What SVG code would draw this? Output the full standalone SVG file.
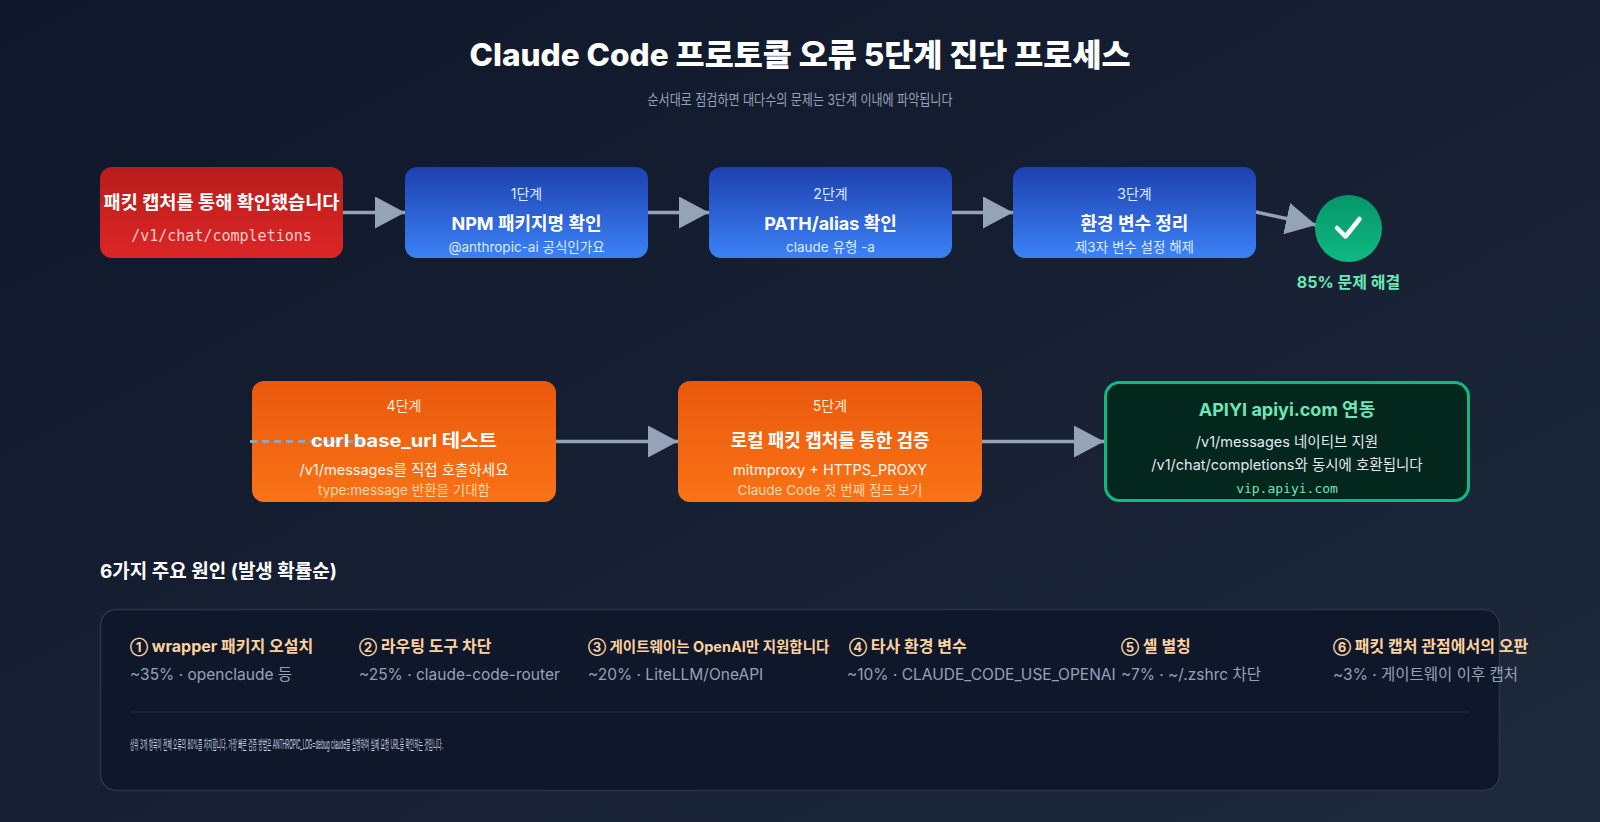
<svg xmlns="http://www.w3.org/2000/svg" width="1600" height="822" viewBox="0 0 1600 822">
  <defs>
    <linearGradient id="bg" x1="0" y1="0" x2="1" y2="1">
      <stop offset="0" stop-color="#0f172a"/>
      <stop offset="1" stop-color="#1e293b"/>
    </linearGradient>
    <linearGradient id="gRed" x1="0" y1="0" x2="0" y2="1">
      <stop offset="0" stop-color="#b91c1c"/>
      <stop offset="1" stop-color="#dc2626"/>
    </linearGradient>
    <linearGradient id="gBlue" x1="0" y1="0" x2="0" y2="1">
      <stop offset="0" stop-color="#1e40af"/>
      <stop offset="1" stop-color="#3b82f6"/>
    </linearGradient>
    <linearGradient id="gOrange" x1="0" y1="0" x2="0" y2="1">
      <stop offset="0" stop-color="#ea580c"/>
      <stop offset="1" stop-color="#f97316"/>
    </linearGradient>
    <linearGradient id="gCheck" x1="0" y1="0" x2="0" y2="1">
      <stop offset="0" stop-color="#059669"/>
      <stop offset="1" stop-color="#10b981"/>
    </linearGradient>
    <marker id="arrow" markerUnits="userSpaceOnUse" markerWidth="30" markerHeight="32" viewBox="0 0 30 32" refX="30" refY="16" orient="auto">
      <path d="M0,0 L30,16 L0,32 z" fill="#94a3b8"/>
    </marker>
    <style>
      .sans { font-family: Inter, "Noto Sans CJK KR", sans-serif; }
      .mono { font-family: "DejaVu Sans Mono", "Liberation Mono", "Noto Sans CJK KR", monospace; }
      .title { font-size: 31px; font-weight: 800; fill: #ffffff; }
      .subtitle { font-size: 15px; fill: #94a3b8; }
      .step { font-size: 14px; fill: #dbeafe; }
      .head { font-size: 18px; font-weight: 700; fill: #ffffff; }
      .sub { font-size: 13.5px; fill: #dbeafe; }
      .ostep { font-size: 14px; fill: #ffedd5; }
      .osub { font-size: 14.5px; fill: #fff7ed; }
      .osub2 { font-size: 13.5px; fill: #fed7aa; }
      .conn { stroke: #94a3b8; stroke-width: 3.5; fill: none; }
      .dash { stroke: #94a3b8; stroke-width: 3; stroke-dasharray: 7 5; fill: none; }
      .ctitle { font-size: 16px; font-weight: 700; fill: #fcd29f; }
      .ctitle.narrow { font-size: 14.5px; }
      .num { font-size: 13px; }
      .cdesc { font-size: 15.5px; fill: #94a3b8; }
    </style>
  </defs>

  <rect x="0" y="0" width="1600" height="822" fill="url(#bg)"/>

  <g id="header">
    <text class="sans title" x="800" y="66" text-anchor="middle" textLength="661" lengthAdjust="spacingAndGlyphs">Claude Code 프로토콜 오류 5단계 진단 프로세스</text>
    <text class="sans subtitle" x="800" y="105" text-anchor="middle" textLength="305" lengthAdjust="spacingAndGlyphs">순서대로 점검하면 대다수의 문제는 3단계 이내에 파악됩니다</text>
  </g>

  <g id="connectors">
    <line class="conn" x1="343" y1="212.5" x2="405" y2="212.5" marker-end="url(#arrow)"/>
    <line class="conn" x1="648" y1="212.5" x2="709" y2="212.5" marker-end="url(#arrow)"/>
    <line class="conn" x1="952" y1="212.5" x2="1013" y2="212.5" marker-end="url(#arrow)"/>
    <line class="conn" x1="1256" y1="212" x2="1316" y2="225" marker-end="url(#arrow)"/>
    <line class="conn" x1="556" y1="441.5" x2="678" y2="441.5" marker-end="url(#arrow)"/>
    <line class="conn" x1="982" y1="441.5" x2="1104" y2="441.5" marker-end="url(#arrow)"/>
  </g>

  <g id="node-capture">
    <rect x="100" y="167" width="243" height="91" rx="12" fill="url(#gRed)"/>
    <text class="sans head" x="221.5" y="209" text-anchor="middle" textLength="236" lengthAdjust="spacingAndGlyphs">패킷 캡처를 통해 확인했습니다</text>
    <text class="mono" x="221.5" y="241" text-anchor="middle" font-size="15" fill="#fecaca">/v1/chat/completions</text>
  </g>

  <g id="node-step1">
    <rect x="405" y="167" width="243" height="91" rx="12" fill="url(#gBlue)"/>
    <text class="sans step" x="526.5" y="199" text-anchor="middle">1단계</text>
    <text class="sans head" x="526.5" y="230" text-anchor="middle">NPM 패키지명 확인</text>
    <text class="sans sub" x="526.5" y="252" text-anchor="middle">@anthropic-ai 공식인가요</text>
  </g>

  <g id="node-step2">
    <rect x="709" y="167" width="243" height="91" rx="12" fill="url(#gBlue)"/>
    <text class="sans step" x="830.5" y="199" text-anchor="middle">2단계</text>
    <text class="sans head" x="830.5" y="230" text-anchor="middle">PATH/alias 확인</text>
    <text class="sans sub" x="830.5" y="252" text-anchor="middle">claude 유형 -a</text>
  </g>

  <g id="node-step3">
    <rect x="1013" y="167" width="243" height="91" rx="12" fill="url(#gBlue)"/>
    <text class="sans step" x="1134.5" y="199" text-anchor="middle">3단계</text>
    <text class="sans head" x="1134.5" y="230" text-anchor="middle">환경 변수 정리</text>
    <text class="sans sub" x="1134.5" y="252" text-anchor="middle">제3자 변수 설정 해제</text>
  </g>

  <g id="node-resolved">
    <circle cx="1348.5" cy="228.5" r="33.5" fill="url(#gCheck)"/>
    <path d="M1337,228 L1345.5,236.5 L1359.5,219" fill="none" stroke="#ffffff" stroke-width="4.5" stroke-linecap="round" stroke-linejoin="round"/>
    <text class="sans" x="1348.5" y="288" text-anchor="middle" font-size="16" font-weight="700" fill="#6ee7b7">85% 문제 해결</text>
  </g>

  <g id="node-step4">
    <rect x="252" y="381" width="304" height="121" rx="12" fill="url(#gOrange)"/>
    <line class="dash" x1="250" y1="441.5" x2="372" y2="441.5"/>
    <text class="sans ostep" x="404" y="411" text-anchor="middle">4단계</text>
    <text class="sans head" x="404" y="447" text-anchor="middle" textLength="186" lengthAdjust="spacingAndGlyphs">curl base_url 테스트</text>
    <text class="sans osub" x="404" y="475" text-anchor="middle">/v1/messages를 직접 호출하세요</text>
    <text class="sans osub2" x="404" y="495" text-anchor="middle">type:message 반환을 기대함</text>
  </g>

  <g id="node-step5">
    <rect x="678" y="381" width="304" height="121" rx="12" fill="url(#gOrange)"/>
    <text class="sans ostep" x="830" y="411" text-anchor="middle">5단계</text>
    <text class="sans head" x="830" y="447" text-anchor="middle">로컬 패킷 캡처를 통한 검증</text>
    <text class="sans osub" x="830" y="475" text-anchor="middle">mitmproxy + HTTPS_PROXY</text>
    <text class="sans osub2" x="830" y="495" text-anchor="middle">Claude Code 첫 번째 점프 보기</text>
  </g>

  <g id="node-apiyi">
    <rect x="1105.5" y="382.5" width="363" height="118" rx="14" fill="#03261d" stroke="#10b981" stroke-width="3"/>
    <text class="sans" x="1287" y="416" text-anchor="middle" font-size="18" font-weight="700" fill="#6ee7b7">APIYI apiyi.com 연동</text>
    <text class="sans" x="1287" y="447" text-anchor="middle" font-size="14.5" fill="#e2e8f0">/v1/messages 네이티브 지원</text>
    <text class="sans" x="1287" y="470" text-anchor="middle" font-size="14.5" fill="#e2e8f0">/v1/chat/completions와 동시에 호환됩니다</text>
    <text class="mono" x="1287" y="493" text-anchor="middle" font-size="13" fill="#6ee7b7">vip.apiyi.com</text>
  </g>

  <g id="causes">
    <text class="sans" x="100" y="578" font-size="19" font-weight="700" fill="#ffffff">6가지 주요 원인 (발생 확률순)</text>
    <rect x="100.5" y="609.5" width="1399" height="181" rx="16" fill="#0f172a" stroke="#2b3649" stroke-width="1.5"/>
    <text class="sans ctitle" x="130" y="652"><tspan class="num">①</tspan> wrapper 패키지 오설치</text>
    <text class="sans cdesc" x="130" y="680">~35% · openclaude 등</text>
    <text class="sans ctitle" x="359" y="652"><tspan class="num">②</tspan> 라우팅 도구 차단</text>
    <text class="sans cdesc" x="359" y="680">~25% · claude-code-router</text>
    <text class="sans ctitle narrow" x="588" y="652"><tspan class="num">③</tspan> 게이트웨이는 OpenAI만 지원합니다</text>
    <text class="sans cdesc" x="588" y="680">~20% · LiteLLM/OneAPI</text>
    <text class="sans ctitle" x="849" y="652"><tspan class="num">④</tspan> 타사 환경 변수</text>
    <text class="sans cdesc" x="847" y="680">~10% · CLAUDE_CODE_USE_OPENAI</text>
    <text class="sans ctitle" x="1121" y="652"><tspan class="num">⑤</tspan> 셸 별칭</text>
    <text class="sans cdesc" x="1121" y="680">~7% · ~/.zshrc 차단</text>
    <text class="sans ctitle" x="1333" y="652"><tspan class="num">⑥</tspan> 패킷 캡처 관점에서의 오판</text>
    <text class="sans cdesc" x="1333" y="680">~3% · 게이트웨이 이후 캡처</text>
    <line x1="130" y1="712" x2="1470" y2="712" stroke="#1e293b" stroke-width="1.5"/>
    <text class="sans" x="130" y="749" font-size="13" fill="#cbd5e1" textLength="313" lengthAdjust="spacingAndGlyphs">상위 3개 항목이 전체 오류의 80%를 차지합니다. 가장 빠른 검증 방법은 ANTHROPIC_LOG=debug claude를 실행하여 실제 요청 URL을 확인하는 것입니다.</text>
  </g>
</svg>
